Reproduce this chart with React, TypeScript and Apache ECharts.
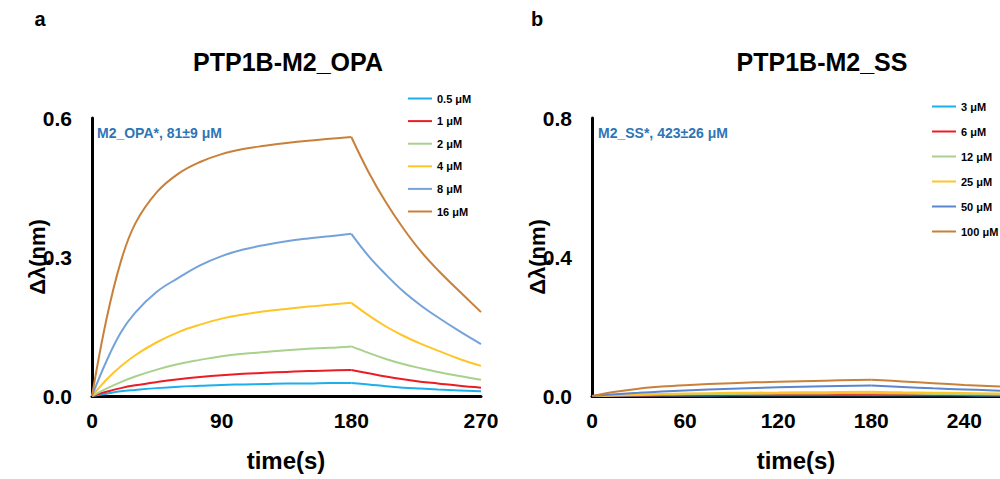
import React, { useEffect, useRef } from "react";
import * as echarts from "echarts";

// Panel a: PTP1B-M2_OPA
const timesA = [0, 10, 20, 30, 45, 60, 75, 90, 105, 120, 135, 150, 165, 180, 192, 204, 216, 228, 240, 255, 270];
const namesA = ["0.5 μM", "1 μM", "2 μM", "4 μM", "8 μM", "16 μM"];
const colorsA = ["#1cb0ea", "#ec1c24", "#a9d18e", "#ffc526", "#74a3d9", "#c9803a"];
const a05 = [0, 0.005, 0.010, 0.013, 0.017, 0.020, 0.022, 0.024, 0.025, 0.026, 0.027, 0.027, 0.028, 0.028, 0.025, 0.021, 0.018, 0.016, 0.014, 0.012, 0.010];
const a1 = [0, 0.009, 0.017, 0.023, 0.030, 0.036, 0.041, 0.045, 0.048, 0.050, 0.052, 0.054, 0.055, 0.056, 0.049, 0.042, 0.036, 0.031, 0.027, 0.022, 0.018];
const a2 = [0, 0.016, 0.030, 0.042, 0.057, 0.069, 0.078, 0.086, 0.091, 0.095, 0.099, 0.102, 0.104, 0.107, 0.093, 0.080, 0.069, 0.060, 0.052, 0.043, 0.035];
const a4 = [0, 0.035, 0.064, 0.088, 0.116, 0.138, 0.154, 0.167, 0.176, 0.183, 0.188, 0.193, 0.197, 0.201, 0.174, 0.150, 0.130, 0.113, 0.098, 0.080, 0.065];
const a8 = [0, 0.075, 0.137, 0.180, 0.225, 0.255, 0.282, 0.302, 0.316, 0.326, 0.334, 0.340, 0.345, 0.350, 0.302, 0.262, 0.226, 0.196, 0.170, 0.140, 0.112];
const a16 = [0, 0.165, 0.290, 0.372, 0.440, 0.480, 0.505, 0.522, 0.533, 0.540, 0.546, 0.551, 0.555, 0.559, 0.483, 0.418, 0.362, 0.313, 0.272, 0.226, 0.181];
const valuesA = [a05, a1, a2, a4, a8, a16];
const yTicksA = { min: 0, max: 0.6, interval: 0.3 };
const xTicksA = { min: 0, max: 270, interval: 90 };

// Panel b: PTP1B-M2_SS
const timesB = [0, 15, 30, 45, 60, 90, 120, 150, 180, 200, 220, 240, 263];
const namesB = ["3 μM", "6 μM", "12 μM", "25 μM", "50 μM", "100 μM"];
const colorsB = ["#1cb0ea", "#ec1c24", "#a9d18e", "#ffc526", "#5a86cf", "#c9803a"];
const b3 = [0, 0.0005, 0.001, 0.0013, 0.0015, 0.0018, 0.002, 0.0023, 0.0025, 0.0022, 0.002, 0.0018, 0.0015];
const b6 = [0, 0.0008, 0.0015, 0.002, 0.0025, 0.003, 0.0035, 0.0038, 0.004, 0.0035, 0.003, 0.0028, 0.0025];
const b12 = [0, 0.0015, 0.003, 0.004, 0.005, 0.006, 0.007, 0.0075, 0.008, 0.007, 0.006, 0.0052, 0.0045];
const b25 = [0, 0.002, 0.004, 0.0055, 0.007, 0.009, 0.010, 0.011, 0.012, 0.0105, 0.0095, 0.0085, 0.007];
const b50 = [0, 0.005, 0.009, 0.013, 0.016, 0.021, 0.025, 0.028, 0.030, 0.026, 0.022, 0.019, 0.015];
const b100 = [0, 0.012, 0.021, 0.027, 0.031, 0.037, 0.041, 0.044, 0.047, 0.042, 0.037, 0.032, 0.027];
const valuesB = [b3, b6, b12, b25, b50, b100];
const yTicksB = { min: 0, max: 0.8, interval: 0.4 };
const xTicksB = { min: 0, max: 263, interval: 60 };

const switchTime = 180;
const titles = ["PTP1B-M2_OPA", "PTP1B-M2_SS"];
const panelLabels = ["a", "b"];
const annotations = ["M2_OPA*, 81±9 μM", "M2_SS*, 423±26 μM"];
const xName = "time(s)";
const yName = "Δλ(nm)";

const NARROW = "'Liberation Sans Narrow', 'Liberation Sans', Arial, sans-serif";
const SANS = "'Liberation Sans', Arial, sans-serif";

export default function App() {
  const ref = useRef<HTMLDivElement>(null);
  useEffect(() => {
    if (!ref.current) return;
    const chart = echarts.init(ref.current, undefined, { renderer: "svg" });
    const grids = [
      { left: 92, top: 118, width: 389, height: 278 },
      { left: 592, top: 118, width: 408, height: 278 },
    ];
    const axisCommon = {
      axisLine: { show: true, onZero: false, lineStyle: { color: "#000", width: 3 } },
      axisTick: { show: false },
      splitLine: { show: false },
    };
    const xTicks = [xTicksA, xTicksB];
    const yTicks = [yTicksA, yTicksB];
    const xAxis = [0, 1].map((i) => ({
      type: "value",
      gridIndex: i,
      ...xTicks[i],
      ...axisCommon,
      axisLabel: {
        color: "#000", fontFamily: NARROW, fontWeight: "bold", fontSize: 21, margin: 14,
        showMaxLabel: i === 0,
      },
    }));
    const yAxis = [0, 1].map((i) => ({
      type: "value",
      gridIndex: i,
      ...yTicks[i],
      ...axisCommon,
      axisLabel: {
        color: "#000", fontFamily: NARROW, fontWeight: "bold", fontSize: 21, margin: 20,
        formatter: (v: number) => v.toFixed(1),
      },
    }));
    const series: any[] = [];
    const addSeries = (times: number[], vals: number[], name: string, color: string, idx: number) => {
      const pts = times.map((t, j) => [t, vals[j]]);
      const assoc = pts.filter((p) => p[0] <= switchTime);
      const dissoc = pts.filter((p) => p[0] >= switchTime);
      [assoc, dissoc].forEach((data) => {
        series.push({
          type: "line", name, xAxisIndex: idx, yAxisIndex: idx, data,
          smooth: 0.4, showSymbol: false,
          lineStyle: { width: 2, color }, itemStyle: { color },
        });
      });
    };
    valuesA.forEach((vals, k) => addSeries(timesA, vals, namesA[k], colorsA[k], 0));
    valuesB.forEach((vals, k) => addSeries(timesB, vals, namesB[k], colorsB[k], 1));
    const legendCommon = {
      orient: "vertical", icon: "rect", itemWidth: 24, itemHeight: 2,
      textStyle: { color: "#000", fontFamily: SANS, fontWeight: "bold", fontSize: 11 },
      selectedMode: false,
    };
    const legend = [
      { ...legendCommon, data: namesA, left: 403, top: 88, itemGap: 11.6 },
      { ...legendCommon, data: namesB, left: 927, top: 96, itemGap: 14 },
    ];
    const txt = (x: number, y: number, text: string, font: any, extra: any = {}) => ({
      type: "text", x, y, ...extra,
      style: { text, fill: "#000", textAlign: "center", textVerticalAlign: "middle", ...font },
    });
    const graphic = [
      txt(40, 19, panelLabels[0], { font: `bold 20px ${SANS}` }),
      txt(537, 19, panelLabels[1], { font: `bold 20px ${SANS}` }),
      txt(288, 62, titles[0], { font: `bold 25px ${SANS}` }),
      txt(822, 62, titles[1], { font: `bold 25px ${SANS}` }),
      txt(286, 460, xName, { font: `bold 24px ${NARROW}` }),
      txt(796, 460, xName, { font: `bold 24px ${NARROW}` }),
      txt(37, 257, yName, { font: `bold 22px ${NARROW}` }, { rotation: Math.PI / 2 }),
      txt(537, 257, yName, { font: `bold 22px ${NARROW}` }, { rotation: Math.PI / 2 }),
      { type: "text", x: 97, y: 133, style: { text: annotations[0], fill: "#2e75b6", font: `bold 14px ${SANS}`, textAlign: "left", textVerticalAlign: "middle" } },
      { type: "text", x: 598, y: 133, style: { text: annotations[1], fill: "#2e75b6", font: `bold 14px ${SANS}`, textAlign: "left", textVerticalAlign: "middle" } },
    ];
    chart.setOption({
      animation: false,
      backgroundColor: "#fff",
      grid: grids,
      xAxis, yAxis, series, legend, graphic,
    });
    return () => chart.dispose();
  }, []);
  return <div ref={ref} style={{ position: "fixed", left: 0, top: 0, width: 1000, height: 479 }} />;
}
